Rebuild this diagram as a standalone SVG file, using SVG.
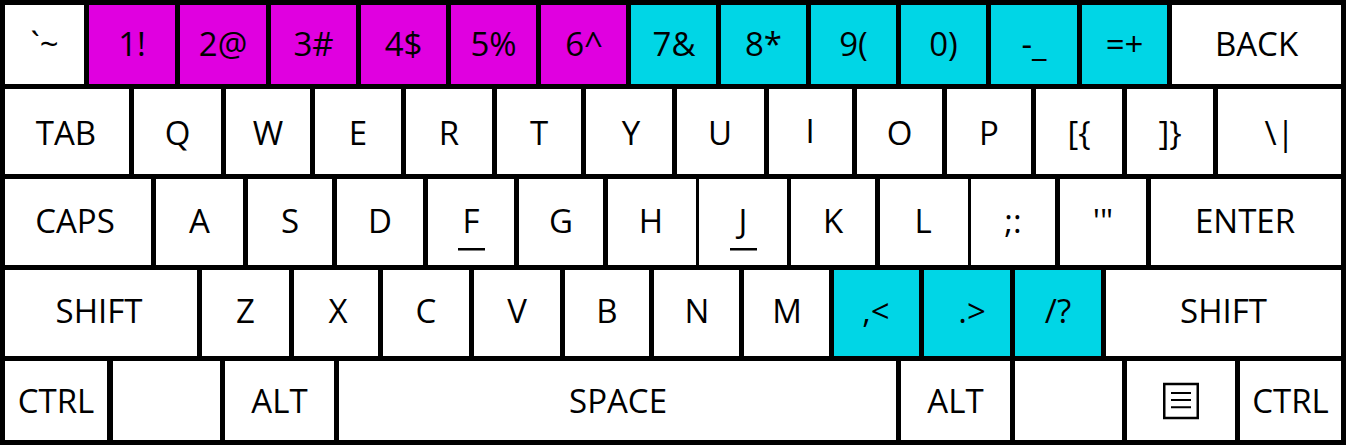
<svg xmlns="http://www.w3.org/2000/svg" width="1346" height="445" viewBox="0 0 1346 445">
<style>
.k{fill:#FFFFFF}
.m{fill:#E000E0}
.c{fill:#00D6E6}
text{font-family:"Open Sans","Noto Sans",sans-serif;font-size:33px;fill:#000;text-anchor:middle}
.r1{}
</style>
<rect x="0" y="0" width="1346" height="445" fill="#000"/>
<g id="row1">
<g id="key-grave"><rect class="k" x="5" y="5" width="79" height="79"/><text x="44.5" y="56">`~</text></g>
<g id="key-1"><rect class="m" x="89" y="5" width="86" height="79"/><text x="132" y="56">1!</text></g>
<g id="key-2"><rect class="m" x="180" y="5" width="86" height="79"/><text x="223" y="56">2@</text></g>
<g id="key-3"><rect class="m" x="271" y="5" width="85" height="79"/><text x="313.5" y="56">3#</text></g>
<g id="key-4"><rect class="m" x="361" y="5" width="85" height="79"/><text x="403.5" y="56">4$</text></g>
<g id="key-5"><rect class="m" x="451" y="5" width="85" height="79"/><text x="493.5" y="56">5%</text></g>
<g id="key-6"><rect class="m" x="541" y="5" width="85" height="79"/><text x="584" y="56">6^</text></g>
<g id="key-7"><rect class="c" x="631" y="5" width="85" height="79"/><text x="674" y="56">7&amp;</text></g>
<g id="key-8"><rect class="c" x="721" y="5" width="85" height="79"/><text x="763.5" y="56">8*</text></g>
<g id="key-9"><rect class="c" x="811" y="5" width="85" height="79"/><text x="853.5" y="56">9(</text></g>
<g id="key-0"><rect class="c" x="901" y="5" width="85" height="79"/><text x="943.5" y="56">0)</text></g>
<g id="key-minus"><rect class="c" x="991" y="5" width="86" height="79"/><text x="1034" y="56">-_</text></g>
<g id="key-equal"><rect class="c" x="1082" y="5" width="85" height="79"/><text x="1124.5" y="56">=+</text></g>
<g id="key-back"><rect class="k" x="1172" y="5" width="169" height="79"/><text x="1256.5" y="56">BACK</text></g>
</g>
<g id="row2">
<g id="key-tab"><rect class="k" x="5" y="89" width="124" height="85"/><text x="66" y="145">TAB</text></g>
<g id="key-q"><rect class="k" x="134" y="89" width="87" height="85"/><text x="177.5" y="145">Q</text></g>
<g id="key-w"><rect class="k" x="226" y="89" width="84" height="85"/><text x="268" y="145">W</text></g>
<g id="key-e"><rect class="k" x="315" y="89" width="86" height="85"/><text x="358" y="145">E</text></g>
<g id="key-r"><rect class="k" x="406" y="89" width="86" height="85"/><text x="449" y="145">R</text></g>
<g id="key-t"><rect class="k" x="497" y="89" width="84" height="85"/><text x="539" y="145">T</text></g>
<g id="key-y"><rect class="k" x="586" y="89" width="86" height="85"/><text x="631" y="145">Y</text></g>
<g id="key-u"><rect class="k" x="677" y="89" width="87" height="85"/><text x="720" y="145">U</text></g>
<g id="key-i"><rect class="k" x="769" y="89" width="83" height="85"/><text x="810" y="143">I</text></g>
<g id="key-o"><rect class="k" x="857" y="89" width="85" height="85"/><text x="899.5" y="145">O</text></g>
<g id="key-p"><rect class="k" x="947" y="89" width="84" height="85"/><text x="989" y="145">P</text></g>
<g id="key-lbracket"><rect class="k" x="1036" y="89" width="86" height="85"/><text x="1079" y="145">[{</text></g>
<g id="key-rbracket"><rect class="k" x="1127" y="89" width="86" height="85"/><text x="1170" y="145">]}</text></g>
<g id="key-backslash"><rect class="k" x="1218" y="89" width="123" height="85"/><text x="1279.5" y="145">\|</text></g>
</g>
<g id="row3">
<g id="key-caps"><rect class="k" x="5" y="179" width="146" height="86"/><text x="75" y="233">CAPS</text></g>
<g id="key-a"><rect class="k" x="156" y="179" width="87" height="86"/><text x="199.5" y="233">A</text></g>
<g id="key-s"><rect class="k" x="248" y="179" width="84" height="86"/><text x="290" y="233">S</text></g>
<g id="key-d"><rect class="k" x="337" y="179" width="86" height="86"/><text x="380" y="233">D</text></g>
<g id="key-f"><rect class="k" x="428" y="179" width="86" height="86"/><text x="471" y="233">F</text><rect x="458" y="248" width="27" height="2.5" fill="#000"/></g>
<g id="key-g"><rect class="k" x="519" y="179" width="84" height="86"/><text x="561" y="233">G</text></g>
<g id="key-h"><rect class="k" x="608" y="179" width="88" height="86"/><text x="651" y="233">H</text></g>
<g id="key-j"><rect class="k" x="699" y="179" width="88" height="86"/><text x="743" y="233">J</text><rect x="730" y="248" width="27" height="2.5" fill="#000"/></g>
<g id="key-k"><rect class="k" x="791" y="179" width="84" height="86"/><text x="833" y="233">K</text></g>
<g id="key-l"><rect class="k" x="880" y="179" width="88" height="86"/><text x="923" y="233">L</text></g>
<g id="key-semicolon"><rect class="k" x="971" y="179" width="84" height="86"/><text x="1013" y="233">;:</text></g>
<g id="key-quote"><rect class="k" x="1060" y="179" width="86" height="86"/><text x="1103" y="233">'"</text></g>
<g id="key-enter"><rect class="k" x="1151" y="179" width="190" height="86"/><text x="1245" y="233">ENTER</text></g>
</g>
<g id="row4">
<g id="key-lshift"><rect class="k" x="5" y="270" width="192" height="86"/><text x="99" y="323">SHIFT</text></g>
<g id="key-z"><rect class="k" x="202" y="270" width="87" height="86"/><text x="245.5" y="323">Z</text></g>
<g id="key-x"><rect class="k" x="294" y="270" width="84" height="86"/><text x="338" y="323">X</text></g>
<g id="key-c"><rect class="k" x="383" y="270" width="86" height="86"/><text x="426" y="323">C</text></g>
<g id="key-v"><rect class="k" x="474" y="270" width="86" height="86"/><text x="517" y="323">V</text></g>
<g id="key-b"><rect class="k" x="565" y="270" width="84" height="86"/><text x="607" y="323">B</text></g>
<g id="key-n"><rect class="k" x="654" y="270" width="85" height="86"/><text x="697" y="323">N</text></g>
<g id="key-m"><rect class="k" x="744" y="270" width="85" height="86"/><text x="787" y="323">M</text></g>
<g id="key-comma"><rect class="c" x="834" y="270" width="85" height="86"/><text x="876" y="323">,&lt;</text></g>
<g id="key-period"><rect class="c" x="924" y="270" width="86" height="86"/><text x="972" y="323">.&gt;</text></g>
<g id="key-slash"><rect class="c" x="1015" y="270" width="86" height="86"/><text x="1058" y="323">/?</text></g>
<g id="key-rshift"><rect class="k" x="1106" y="270" width="235" height="86"/><text x="1223.5" y="323">SHIFT</text></g>
</g>
<g id="row5">
<g id="key-lctrl"><rect class="k" x="5" y="361" width="102" height="79"/><text x="56" y="412.5">CTRL</text></g>
<g id="key-lblank"><rect class="k" x="113" y="361" width="107" height="79"/></g>
<g id="key-lalt"><rect class="k" x="225" y="361" width="109" height="79"/><text x="279.5" y="412.5">ALT</text></g>
<g id="key-space"><rect class="k" x="339" y="361" width="557" height="79"/><text x="618" y="412.5">SPACE</text></g>
<g id="key-ralt"><rect class="k" x="901" y="361" width="109" height="79"/><text x="955.5" y="412.5">ALT</text></g>
<g id="key-rblank"><rect class="k" x="1015" y="361" width="107" height="79"/></g>
<g id="key-menu"><rect class="k" x="1127" y="361" width="108" height="79"/><rect x="1164.25" y="384" width="33.5" height="34" fill="none" stroke="#000" stroke-width="2.5"/><path d="M1171 393H1191M1171 400H1191M1171 407.3H1191" stroke="#000" stroke-width="2" fill="none"/></g>
<g id="key-rctrl"><rect class="k" x="1240" y="361" width="101" height="79"/><text x="1290.5" y="412.5">CTRL</text></g>
</g>
<g id="connectors"/>
</svg>
